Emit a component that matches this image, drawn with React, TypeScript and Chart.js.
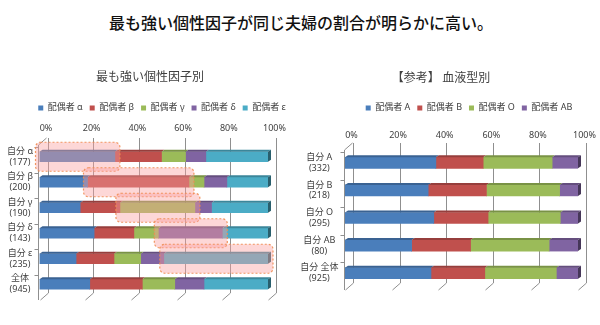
import React, { useEffect, useRef } from "react";
import { Chart, registerables } from "chart.js";

Chart.register(...registerables);

const FONT = "'Noto Sans', 'Noto Sans CJK JP', sans-serif";
const CJK = "'Noto Sans CJK JP', sans-serif";

const MAIN_TITLE = "最も強い個性因子が同じ夫婦の割合が明らかに高い。";

// Left chart: by strongest personality factor
const LEFT_TITLE = "最も強い個性因子別";
const LEFT_CATEGORIES = [
  ["自分 α", "(177)"],
  ["自分 β", "(200)"],
  ["自分 γ", "(190)"],
  ["自分 δ", "(143)"],
  ["自分 ε", "(235)"],
  ["全体", "(945)"],
];
const LEFT_SERIES = ["配偶者 α", "配偶者 β", "配偶者 γ", "配偶者 δ", "配偶者 ε"];
const SPOUSE_ALPHA = [33, 21, 17.8, 23.9, 16, 22];
const SPOUSE_BETA = [20.4, 44.4, 17.4, 17.4, 16.6, 23];
const SPOUSE_GAMMA = [10.5, 6.6, 32.8, 10.7, 11.7, 14.2];
const SPOUSE_DELTA = [8.9, 10, 7.3, 28, 10.1, 12.8];
const SPOUSE_EPSILON = [27.2, 18, 24.7, 20, 45.6, 28];

// Right chart: by blood type
const RIGHT_TITLE = "【参考】 血液型別";
const RIGHT_CATEGORIES = [
  ["自分 A", "(332)"],
  ["自分 B", "(218)"],
  ["自分 O", "(295)"],
  ["自分 AB", "(80)"],
  ["自分 全体", "(925)"],
];
const RIGHT_SERIES = ["配偶者 A", "配偶者 B", "配偶者 O", "配偶者 AB"];
const SPOUSE_A = [39, 35.7, 38.1, 28.6, 36.9];
const SPOUSE_B = [20.3, 25, 23.3, 25.3, 23.1];
const SPOUSE_O = [29.6, 31.4, 31, 33.7, 30.7];
const SPOUSE_AB = [11.1, 7.9, 7.6, 12.4, 9.3];

const TICK_VALUES = [0, 20, 40, 60, 80, 100];
const COLORS = ["#4a7ebb", "#c0504d", "#9bbb59", "#8064a2", "#4bacc6"];

const GRID_COLOR = "#8f8f8f";
const DEPTH_X = 8;
const DEPTH_Y = 7;

function shade(hex: string, f: number) {
  const n = parseInt(hex.slice(1), 16);
  const r = (n >> 16) & 255, g = (n >> 8) & 255, b = n & 255;
  const m = (c: number) => Math.round(Math.max(0, Math.min(255, c * (1 + f))));
  return `rgb(${m(r)},${m(g)},${m(b)})`;
}

const shiftPlugin = {
  id: "shiftBoxes",
  afterLayout(chart: any, _a: any, opts: any) {
    const t = chart.titleBlock;
    if (t && opts.title) { t.left += opts.title; t.right += opts.title; }
    const l = chart.legend;
    if (l && opts.legend) { l.left += opts.legend; l.right += opts.legend; }
  },
};

// 3D-style walls: back gridlines, floor diagonals, front axis with category ticks
const wallPlugin = {
  id: "walls",
  beforeDatasetsDraw(chart: any) {
    const ctx = chart.ctx;
    const area = chart.chartArea;
    const xs = chart.scales.x;
    const ys = chart.scales.y;
    const backTop = area.top - 6;
    const backBottom = area.bottom - 4;
    const frontBottom = backBottom + DEPTH_Y;
    const frontX = area.left - 1.5;
    ctx.save();
    ctx.strokeStyle = GRID_COLOR;
    ctx.lineWidth = 1;
    ctx.beginPath();
    TICK_VALUES.forEach((v) => {
      const px = Math.round(xs.getPixelForValue(v)) + DEPTH_X + 0.5;
      ctx.moveTo(px, backTop);
      ctx.lineTo(px, backBottom);
      ctx.lineTo(px - DEPTH_X, frontBottom);
    });
    const fx = Math.round(frontX) + 0.5;
    const frontTop = backTop + DEPTH_Y;
    ctx.moveTo(fx + DEPTH_X, backTop);
    ctx.lineTo(fx, frontTop);
    ctx.lineTo(fx, frontBottom);
    const n = chart.data.labels.length;
    const step = ys.getPixelForValue(1) - ys.getPixelForValue(0);
    for (let i = 0; i <= n; i++) {
      const b = ys.getPixelForValue(0) - step / 2 + step * i;
      const by = Math.round(b + 3) + 0.5;
      if (by < frontTop || by > frontBottom) continue;
      ctx.moveTo(fx - 4, by);
      ctx.lineTo(fx, by);
    }
    ctx.stroke();
    ctx.restore();
  },
};

const barDecor = {
  id: "barDecor",
  afterDatasetsDraw(chart: any, _a: any, opts: any) {
    const ctx = chart.ctx;
    const n = chart.data.datasets.length;
    const dx = 3, dy = 2;
    ctx.save();
    for (let d = 0; d < n; d++) {
      const meta = chart.getDatasetMeta(d);
      const color = chart.data.datasets[d].backgroundColor;
      meta.data.forEach((el: any) => {
        const left = Math.min(el.base, el.x), right = Math.max(el.base, el.x);
        const top = el.y - el.height / 2, bottom = el.y + el.height / 2;
        ctx.fillStyle = shade(color, -0.22);
        ctx.beginPath();
        ctx.moveTo(left, top);
        ctx.lineTo(right, top);
        ctx.lineTo(right + dx, top - dy);
        ctx.lineTo(left + dx, top - dy);
        ctx.closePath();
        ctx.fill();
        if (d === n - 1) {
          ctx.fillStyle = shade(color, -0.45);
          ctx.beginPath();
          ctx.moveTo(right, top);
          ctx.lineTo(right + dx, top - dy);
          ctx.lineTo(right + dx, bottom - dy);
          ctx.lineTo(right, bottom);
          ctx.closePath();
          ctx.fill();
        }
      });
    }
    if (opts.highlight) {
      for (let i = 0; i < n; i++) {
        const el = chart.getDatasetMeta(i).data[i];
        if (!el) continue;
        const x0 = Math.min(el.base, el.x) - 4, x1 = Math.max(el.base, el.x) + 5;
        const y0 = el.y - 14.5, y1 = el.y + 14.5;
        ctx.beginPath();
        ctx.roundRect(x0, y0, x1 - x0, y1 - y0, 5);
        ctx.fillStyle = "rgba(250,160,160,0.42)";
        ctx.fill();
        ctx.setLineDash([2, 2]);
        ctx.lineWidth = 1.2;
        ctx.strokeStyle = "rgba(240,140,80,0.9)";
        ctx.stroke();
        ctx.setLineDash([]);
      }
    }
    ctx.restore();
  },
};

type Spec = {
  title: string;
  categories: string[][];
  series: string[];
  values: number[][];
  padRight: number;
  padBottom: number;
  axisWidth: number;
  xAxisHeight: number;
  tickPad: number;
  yPad: number;
  titleTop: number;
  titleBottom: number;
  shiftTitle: number;
  shiftLegend: number;
  barThickness: number;
  highlight: boolean;
};

function buildConfig(s: Spec): any {
  return {
    type: "bar",
    data: {
      labels: s.categories,
      datasets: s.series.map((name, i) => ({
        label: name,
        data: s.values[i],
        backgroundColor: COLORS[i],
        borderWidth: 0,
        barThickness: s.barThickness,
      })),
    },
    options: {
      animation: false,
      responsive: false,
      indexAxis: "y",
      layout: { padding: { top: 0, left: 0, right: s.padRight, bottom: s.padBottom } },
      plugins: {
        title: {
          display: true,
          text: s.title,
          color: "#404040",
          font: { family: CJK, size: 12, weight: "normal" },
          padding: { top: s.titleTop, bottom: s.titleBottom },
        },
        legend: {
          labels: {
            boxWidth: 5,
            boxHeight: 5,
            padding: 7,
            color: "#404040",
            font: { family: FONT, size: 9 },
          },
        },
        tooltip: { enabled: false },
        shiftBoxes: { title: s.shiftTitle, legend: s.shiftLegend },
        barDecor: { highlight: s.highlight },
      },
      scales: {
        x: {
          position: "top",
          stacked: true,
          min: 0,
          max: 100,
          afterBuildTicks: (sc: any) => {
            sc.ticks = TICK_VALUES.map((v) => ({ value: v }));
          },
          ticks: {
            callback: (v: any) => v + "%",
            color: "#404040",
            font: { family: FONT, size: 9 },
            padding: s.tickPad,
            labelOffset: 6.5,
            maxRotation: 0,
          },
          grid: { display: false, drawTicks: false },
          border: { display: false },
          afterFit: (sc: any) => {
            sc.height = s.xAxisHeight;
          },
        },
        y: {
          stacked: true,
          ticks: {
            color: "#404040",
            font: { family: FONT, size: 9, lineHeight: 1.2 },
            crossAlign: "center",
            padding: s.yPad,
          },
          grid: { display: false, drawTicks: false },
          border: { display: false },
          afterFit: (sc: any) => {
            sc.width = s.axisWidth;
          },
        },
      },
    },
    plugins: [shiftPlugin, wallPlugin, barDecor],
  };
}

function ChartCanvas({ spec, left }: { spec: Spec; left: number }) {
  const ref = useRef<HTMLCanvasElement>(null);
  useEffect(() => {
    if (!ref.current) return;
    const chart = new Chart(ref.current, buildConfig(spec));
    return () => chart.destroy();
  }, [spec]);
  return (
    <canvas
      ref={ref}
      width={300}
      height={325}
      style={{ position: "absolute", left, top: 0, width: 300, height: 325 }}
    />
  );
}

const LEFT_SPEC: Spec = {
  title: LEFT_TITLE,
  categories: LEFT_CATEGORIES,
  series: LEFT_SERIES,
  values: [SPOUSE_ALPHA, SPOUSE_BETA, SPOUSE_GAMMA, SPOUSE_DELTA, SPOUSE_EPSILON],
  padRight: 32,
  padBottom: 28,
  axisWidth: 39.5,
  xAxisHeight: 21.6,
  tickPad: 10.6,
  yPad: 6.5,
  titleTop: 69,
  titleBottom: 13,
  shiftTitle: 16,
  shiftLegend: 28,
  barThickness: 10,
  highlight: true,
};

const RIGHT_SPEC: Spec = {
  title: RIGHT_TITLE,
  categories: RIGHT_CATEGORIES,
  series: RIGHT_SERIES,
  values: [SPOUSE_A, SPOUSE_B, SPOUSE_O, SPOUSE_AB],
  padRight: 22,
  padBottom: 38,
  axisWidth: 45,
  xAxisHeight: 26.6,
  tickPad: 8.6,
  yPad: 6.5,
  titleTop: 70,
  titleBottom: 12,
  shiftTitle: 2,
  shiftLegend: 30,
  barThickness: 11,
  highlight: false,
};

export default function App() {
  return (
    <div
      style={{
        position: "fixed",
        left: 0,
        top: 0,
        width: 600,
        height: 325,
        background: "#fff",
        overflow: "hidden",
      }}
    >
      <div
        style={{
          position: "absolute",
          left: 0,
          top: 11,
          width: 602,
          textAlign: "center",
          fontFamily: CJK,
          fontSize: 16,
          lineHeight: "22px",
          fontWeight: 500,
          color: "#111",
        }}
      >
        {MAIN_TITLE}
      </div>
      <ChartCanvas spec={LEFT_SPEC} left={0} />
      <ChartCanvas spec={RIGHT_SPEC} left={300} />
    </div>
  );
}
